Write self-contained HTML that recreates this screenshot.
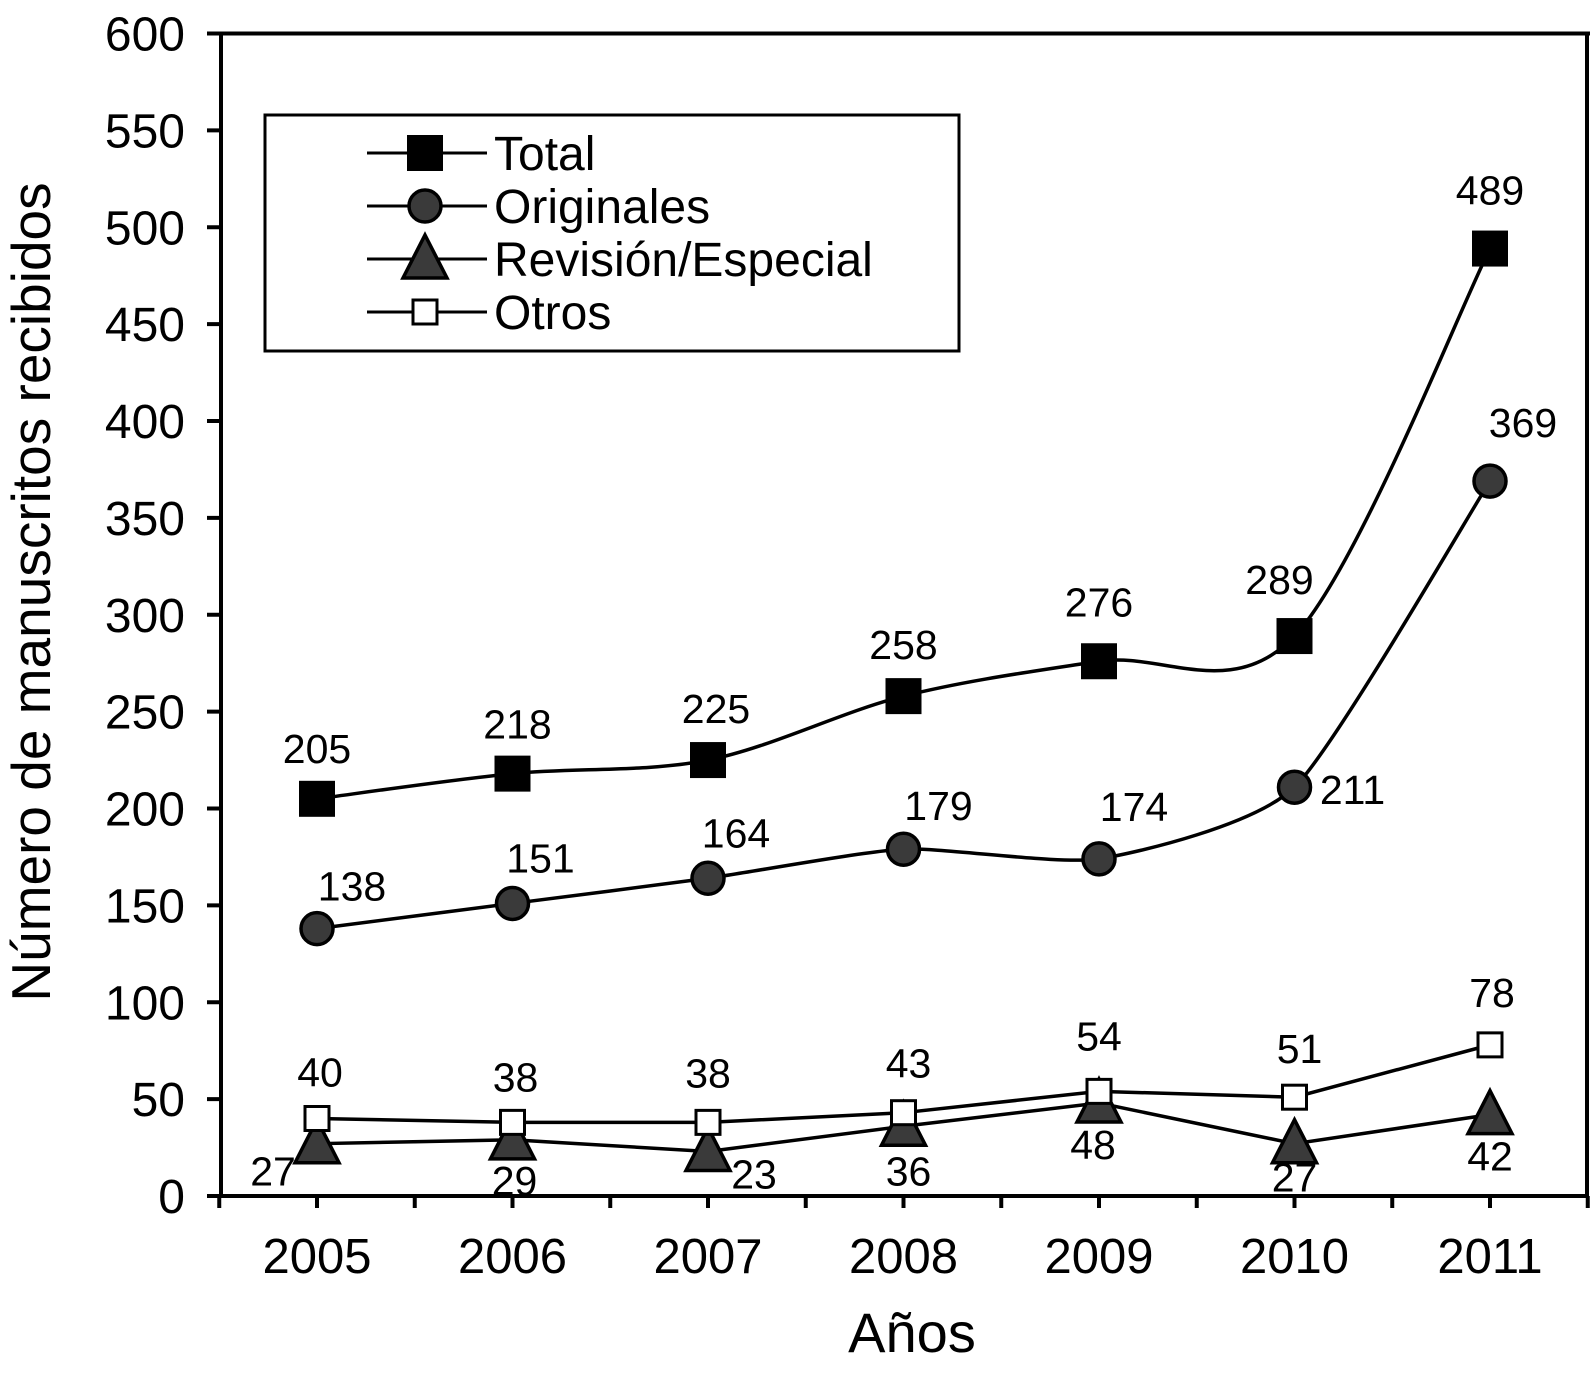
<!DOCTYPE html>
<html><head><meta charset="utf-8"><style>
html,body{margin:0;padding:0;background:#fff;}
svg{display:block;font-family:"Liberation Sans",Arial,sans-serif;}
</style></head><body>
<svg id="chart" width="1590" height="1375" viewBox="0 0 1590 1375" xmlns="http://www.w3.org/2000/svg">
<g id="axes"></g>
<g id="series"></g>
<g id="legend"></g>
</svg>
<script>
const years = ["2005","2006","2007","2008","2009","2010","2011"];
const totalVals = [205,218,225,258,276,289,489];
const originalesVals = [138,151,164,179,174,211,369];
const revisionVals = [27,29,23,36,48,27,42];
const otrosVals = [40,38,38,43,54,51,78];
const yTicks = [0,50,100,150,200,250,300,350,400,450,500,550,600];

const NS="http://www.w3.org/2000/svg";
const X0=317, DX=195.5, Y0=1196, YTOP=33.5, L=221, R=1587;
function xs(i){return X0+i*DX;}
function ys(v){return Y0-v*(Y0-YTOP)/600;}
function mk(tag,attrs,parent,text){const e=document.createElementNS(NS,tag);for(const k in attrs)e.setAttribute(k,attrs[k]);if(text!==undefined)e.textContent=text;parent.appendChild(e);return e;}
const axes=document.getElementById('axes'), series=document.getElementById('series'), legend=document.getElementById('legend');

let e=mk('line',{x1:L,y1:YTOP,x2:L,y2:Y0,stroke:'#000','stroke-width':4},axes);


e=mk('line',{x1:L-14,y1:Y0,x2:R,y2:Y0,stroke:'#000','stroke-width':4},axes);


e=mk('line',{x1:L-14,y1:YTOP,x2:1590,y2:YTOP,stroke:'#000','stroke-width':4},axes);


e=mk('line',{x1:R,y1:YTOP,x2:R,y2:Y0,stroke:'#000','stroke-width':4},axes);



yTicks.forEach(t=>{
  const y=ys(t);
  let l=mk('line',{x1:L-14,y1:y,x2:L,y2:y,stroke:'#000','stroke-width':4},axes);
  
  
  let tx=mk('text',{x:L-36,y:y+17,'text-anchor':'end','font-size':48},axes,String(t));
  
  
});
for(let i=-0.5;i<=6.5;i+=0.5){
  const x=xs(i);
  let l=mk('line',{x1:x,y1:Y0,x2:x,y2:Y0+12,stroke:'#000','stroke-width':4},axes);
  
  
}
years.forEach((yr,i)=>{
  let tx=mk('text',{x:xs(i),y:1273,'text-anchor':'middle','font-size':49},axes,yr);
  
  
});
e=mk('text',{x:912,y:1352,'text-anchor':'middle','font-size':56},axes,'Años');


e=mk('text',{x:0,y:0,'text-anchor':'middle','font-size':55,transform:'translate(50,592) rotate(-90)'},axes,'Número de manuscritos recibidos');



function smoothPath(pts,t){
  let d='M'+pts[0][0]+','+pts[0][1];
  for(let i=0;i<pts.length-1;i++){
    const p0=pts[Math.max(0,i-1)],p1=pts[i],p2=pts[i+1],p3=pts[Math.min(pts.length-1,i+2)];
    const c1=[p1[0]+(p2[0]-p0[0])*t,p1[1]+(p2[1]-p0[1])*t];
    const c2=[p2[0]-(p3[0]-p1[0])*t,p2[1]-(p3[1]-p1[1])*t];
    d+=` C${c1[0]},${c1[1]} ${c2[0]},${c2[1]} ${p2[0]},${p2[1]}`;
  }
  return d;
}
function straightPath(pts){return 'M'+pts.map(p=>p[0]+','+p[1]).join(' L');}

function marker(type,x,y,parent){
  let m;
  if(type==='square') m=mk('rect',{x:x-18,y:y-18,width:36,height:36,fill:'#000'},parent);
  else if(type==='circle') m=mk('circle',{cx:x,cy:y,r:16,fill:'#3a3a3a',stroke:'#000','stroke-width':3.5},parent);
  else if(type==='triangle') m=mk('polygon',{points:`${x},${y-24} ${x+22},${y+19} ${x-22},${y+19}`,fill:'#3a3a3a',stroke:'#000','stroke-width':3.5},parent);
  else m=mk('rect',{x:x-12,y:y-12,width:24,height:24,fill:'#fff',stroke:'#000','stroke-width':3},parent);
  return m;
}

const defs=[
  {name:'total',vals:totalVals,type:'square',smooth:0.16,off:[[0,-51],[5,-50],[8,-52],[0,-52],[0,-60],[-15,-57],[0,-59]]},
  {name:'originales',vals:originalesVals,type:'circle',smooth:0.1,off:[[35,-43],[28,-46],[28,-46],[35,-44],[35,-53],[58,2],[33,-59]]},
  {name:'revision',vals:revisionVals,type:'triangle',smooth:0,off:[[-44,27],[2,40],[46,22],[5,44],[-6,41],[0,33],[0,41]]},
  {name:'otros',vals:otrosVals,type:'square-open',smooth:0,off:[[3,-47],[3,-46],[0,-50],[5,-50],[0,-56],[5,-49],[2,-53]]}
];
defs.forEach(s=>{
  const g=mk('g',{},series);
  
  
  const pts=s.vals.map((v,i)=>[xs(i),ys(v)]);
  const p=mk('path',{d:s.smooth?smoothPath(pts,s.smooth):straightPath(pts),fill:'none',stroke:'#000','stroke-width':3.5},g);
  
  
  pts.forEach((pt,i)=>{
    const m=marker(s.type,pt[0],pt[1],g);
    
    
    const t=mk('text',{x:pt[0]+s.off[i][0],y:pt[1]+s.off[i][1]+15,'text-anchor':'middle','font-size':41},g,String(s.vals[i]));
    
    
  });
});

e=mk('rect',{x:265,y:115,width:694,height:236,fill:'#fff',stroke:'#000','stroke-width':3},legend);


const legItems=[['Total','square'],['Originales','circle'],['Revisión/Especial','triangle'],['Otros','square-open']];
legItems.forEach((it,i)=>{
  const y=153+i*53;
  const g=mk('g',{},legend);
  
  
  mk('line',{x1:367,y1:y,x2:487,y2:y,stroke:'#000','stroke-width':3},g);
  marker(it[1],425,y,g);
  mk('text',{x:494,y:y+17,'font-size':48},g,it[0]);
});
</script>
</body></html>
